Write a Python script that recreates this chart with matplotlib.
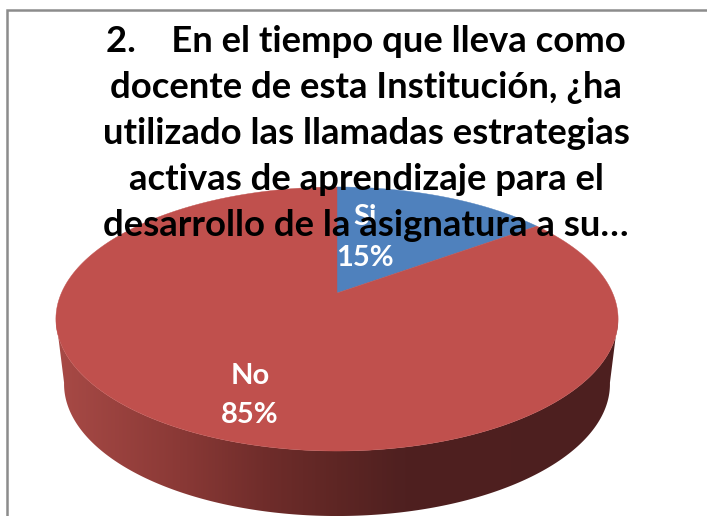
import numpy as np
import matplotlib
matplotlib.use("Agg")
import matplotlib.pyplot as plt
from matplotlib.patches import Polygon
from matplotlib.colors import LinearSegmentedColormap

categories = ["Si", "No"]
values = [15, 85]
title_lines = [
    "2.    En el tiempo que lleva como",
    "docente de esta Institución, ¿ha",
    "utilizado las llamadas estrategias",
    "activas de aprendizaje para el",
    "desarrollo de la asignatura a su…",
]

COLORS = {"Si": "#4F81BD", "No": "#C0504D"}
FONT = "Lato"
plt.rcParams["font.family"] = [FONT, "DejaVu Sans"]

# pixel coordinates, y pointing down
fig = plt.figure(figsize=(7.07, 5.16), dpi=100, facecolor="white")
ax = fig.add_axes([0, 0, 1, 1])
ax.set_xlim(0, 707); ax.set_ylim(516, 0); ax.set_axis_off()

# chart frame, only left and top are in the crop
ax.plot([7, 7, 707], [516, 10, 10], color="#8C8C8C", lw=1.8, solid_joinstyle="miter")

# tilted disc: a circle under a perspective projection
CX, CY, KX, KY, PERSP = 337, 293, 275.6, 126.9, 0.197
def disc(theta, cx=CX, cy=CY, kx=KX, ky=KY):
    w = 1 + PERSP * np.cos(theta)
    return np.column_stack([cx + kx * np.sin(theta) / w, cy - ky * np.cos(theta) / w])

# side wall, gradient clipped to the ring between the widest points of both edges
th = np.linspace(np.pi * 0.56, np.pi * 1.44, 200)
top_edge = disc(th)
low_edge = disc(th, cy=CY + 65, kx=KX - 8)
wall = Polygon(np.vstack([top_edge, low_edge[::-1]]), closed=True, transform=ax.transData,
               facecolor="none", edgecolor="none")
ax.add_patch(wall)
wall_cmap = LinearSegmentedColormap.from_list("wall", [
    (0.00, "#4D1F1F"), (0.38, "#4F2020"), (0.50, "#5E2624"), (0.62, "#6E2C2A"),
    (0.78, "#8A3936"), (1.00, "#A84A46")])
img = ax.imshow(np.linspace(1, 0, 256)[None, :], cmap=wall_cmap, vmin=0, vmax=1,
                extent=[56, 618, 516, 320], aspect="auto", interpolation="bilinear", zorder=2)
ax.set_xlim(0, 707); ax.set_ylim(516, 0)
img.set_clip_path(wall)

# top face, slices start at 12 o'clock and run clockwise
start = 0.0
total = sum(values)
for cat, val in zip(categories, values):
    end = start + 2 * np.pi * val / total
    t = np.linspace(start, end, 240)
    pts = np.vstack([[CX, CY], disc(t)])
    ax.add_patch(Polygon(pts, closed=True, facecolor=COLORS[cat], edgecolor=COLORS[cat],
                         lw=0.3, zorder=3))
    start = end

label_x = [365, 250]
label_y = [[217, 258], [376, 415]]
for cat, val, x, ys in zip(categories, values, label_x, label_y):
    ax.text(x, ys[0], cat, color="white", fontsize=21, fontweight="bold",
            ha="center", va="center", zorder=4)
    ax.text(x, ys[1], f"{val}%", color="white", fontsize=21, fontweight="bold",
            ha="center", va="center", zorder=4)

title_y = [42, 87, 133, 179, 226]
for line, y in zip(title_lines, title_y):
    ax.text(366, y, line, color="black", fontsize=26.3, fontweight="bold",
            ha="center", va="center", zorder=5)

fig.savefig("out.png", dpi=100, facecolor="white")
